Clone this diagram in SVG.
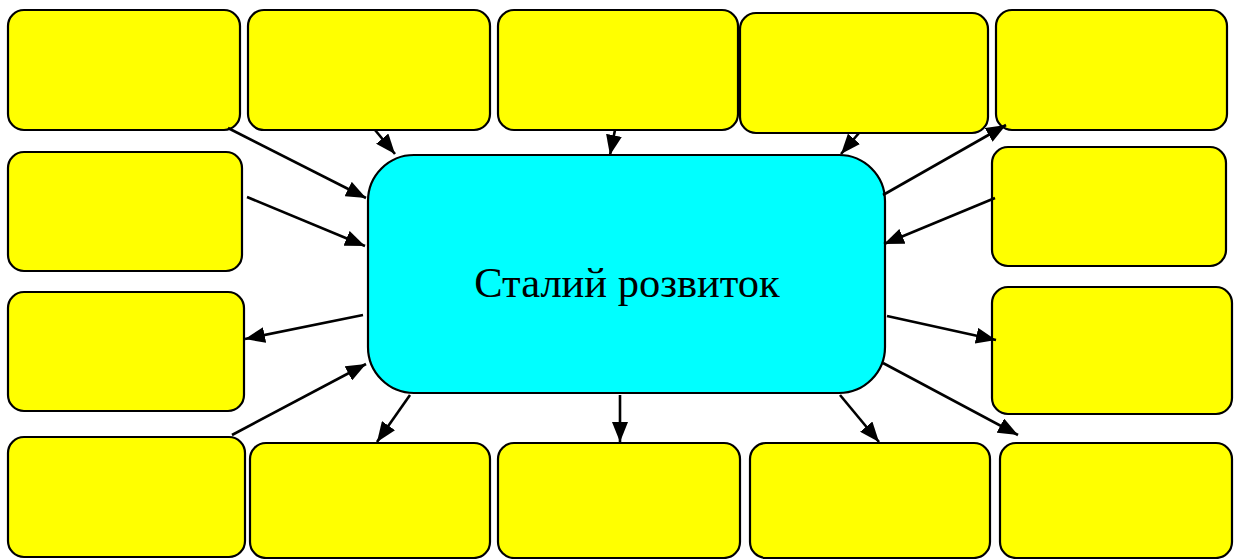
<svg xmlns="http://www.w3.org/2000/svg" width="1235" height="559" viewBox="0 0 1235 559">
<style>
.box{fill:#ffff00;stroke:#000;stroke-width:2.2}
.ctr{fill:#00ffff;stroke:#000;stroke-width:2.2}
.conn line{stroke:#000;stroke-width:2.6;marker-end:url(#ah)}
.lbl{font-family:"Liberation Serif","Times New Roman",serif;font-size:42.5px;fill:#000}
</style>
<defs>
<marker id="ah" markerUnits="userSpaceOnUse" markerWidth="21" markerHeight="16" refX="20" refY="8" orient="auto">
<path d="M0,0 L20,8 L0,16 z" fill="#000"/>
</marker>
</defs>
<rect width="1235" height="559" fill="#fff"/>
<g id="n1"><rect class="box" x="8" y="10" width="232" height="120" rx="16"/></g>
<g id="n2"><rect class="box" x="248" y="10" width="242" height="120" rx="16"/></g>
<g id="n3"><rect class="box" x="498" y="10" width="240" height="120" rx="16"/></g>
<g id="n4"><rect class="box" x="740" y="13" width="248" height="120" rx="16"/></g>
<g id="n5"><rect class="box" x="996" y="10" width="231" height="120" rx="16"/></g>
<g id="n6"><rect class="box" x="8" y="152" width="234" height="119" rx="16"/></g>
<g id="n7"><rect class="box" x="8" y="292" width="236" height="119" rx="16"/></g>
<g id="n8"><rect class="box" x="8" y="437" width="237" height="120" rx="16"/></g>
<g id="n9"><rect class="box" x="250" y="443" width="240" height="115" rx="16"/></g>
<g id="n10"><rect class="box" x="498" y="443" width="242" height="115" rx="16"/></g>
<g id="n11"><rect class="box" x="750" y="443" width="240" height="115" rx="16"/></g>
<g id="n12"><rect class="box" x="1000" y="443" width="232" height="115" rx="16"/></g>
<g id="n13"><rect class="box" x="992" y="147" width="234" height="119" rx="16"/></g>
<g id="n14"><rect class="box" x="992" y="287" width="240" height="127" rx="16"/></g>
<g id="center"><rect class="ctr" x="368" y="155" width="517" height="238" rx="46"/>
<text class="lbl" x="627" y="297" text-anchor="middle">Сталий розвиток</text></g>
<g class="conn" id="connectors">
<line x1="228" y1="128" x2="366" y2="198"/>
<line x1="247" y1="197" x2="365" y2="246"/>
<line x1="375" y1="130" x2="395" y2="154"/>
<line x1="615" y1="130" x2="610" y2="155"/>
<line x1="859" y1="133" x2="841" y2="154"/>
<line x1="883" y1="195" x2="1006" y2="125"/>
<line x1="995" y1="198" x2="884" y2="244"/>
<line x1="363" y1="315" x2="245" y2="339"/>
<line x1="232" y1="435" x2="366" y2="364"/>
<line x1="410" y1="395" x2="377" y2="442"/>
<line x1="620" y1="395" x2="620" y2="442"/>
<line x1="840" y1="395" x2="879" y2="442"/>
<line x1="887" y1="316" x2="996" y2="340"/>
<line x1="883" y1="363" x2="1018" y2="435"/>
</g>
</svg>
